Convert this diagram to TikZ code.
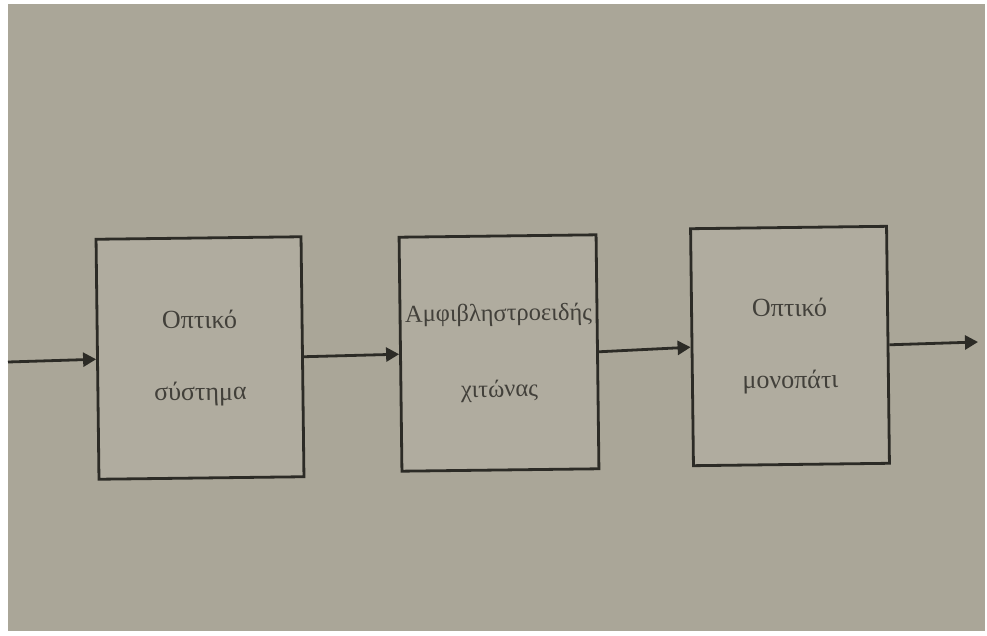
\documentclass[tikz,border=0pt]{standalone}
\usepackage{fontspec}
\setmainfont{Liberation Serif}
\usetikzlibrary{arrows.meta}
\definecolor{paper}{RGB}{170,166,152}
\definecolor{boxfill}{RGB}{176,172,159}
\definecolor{ink}{RGB}{44,43,38}
\definecolor{txt}{RGB}{66,64,58}
\begin{document}
\begin{tikzpicture}[x=1pt,y=-1pt,
  blockbox/.style={draw=ink, line width=2.8pt, fill=boxfill, inner sep=0pt,
    align=center, text=txt, font=\fontsize{26}{72}\selectfont, rotate=0.7},
  flow/.style={draw=ink, line width=2.8pt, -{Triangle[length=13pt,width=14pt]}}]
  \fill[white] (0,0) rectangle (987,636);
  \useasboundingbox (0,0) rectangle (987,636);
  \fill[paper] (8,4) rectangle (985,631);
  \node[blockbox, minimum width=205pt, minimum height=240pt] (b1) at (200,358) {Οπτικό\\σύστημα};
  \node[blockbox, minimum width=197pt, minimum height=234pt, font=\fontsize{24.5}{76}\selectfont] (b2) at (499,353) {Αμφιβληστροειδής\\χιτώνας};
  \node[blockbox, minimum width=196pt, minimum height=237pt] (b3) at (790,346) {Οπτικό\\μονοπάτι};
  \coordinate (in) at (8,362);
  \coordinate (out) at (978,342);
  \draw[flow] (in) -- (b1.west);
  \draw[flow] (b1.east) -- (b2.west);
  \draw[flow] (b2.east) -- (b3.west);
  \draw[flow] (b3.east) -- (out);
\end{tikzpicture}
\end{document}
